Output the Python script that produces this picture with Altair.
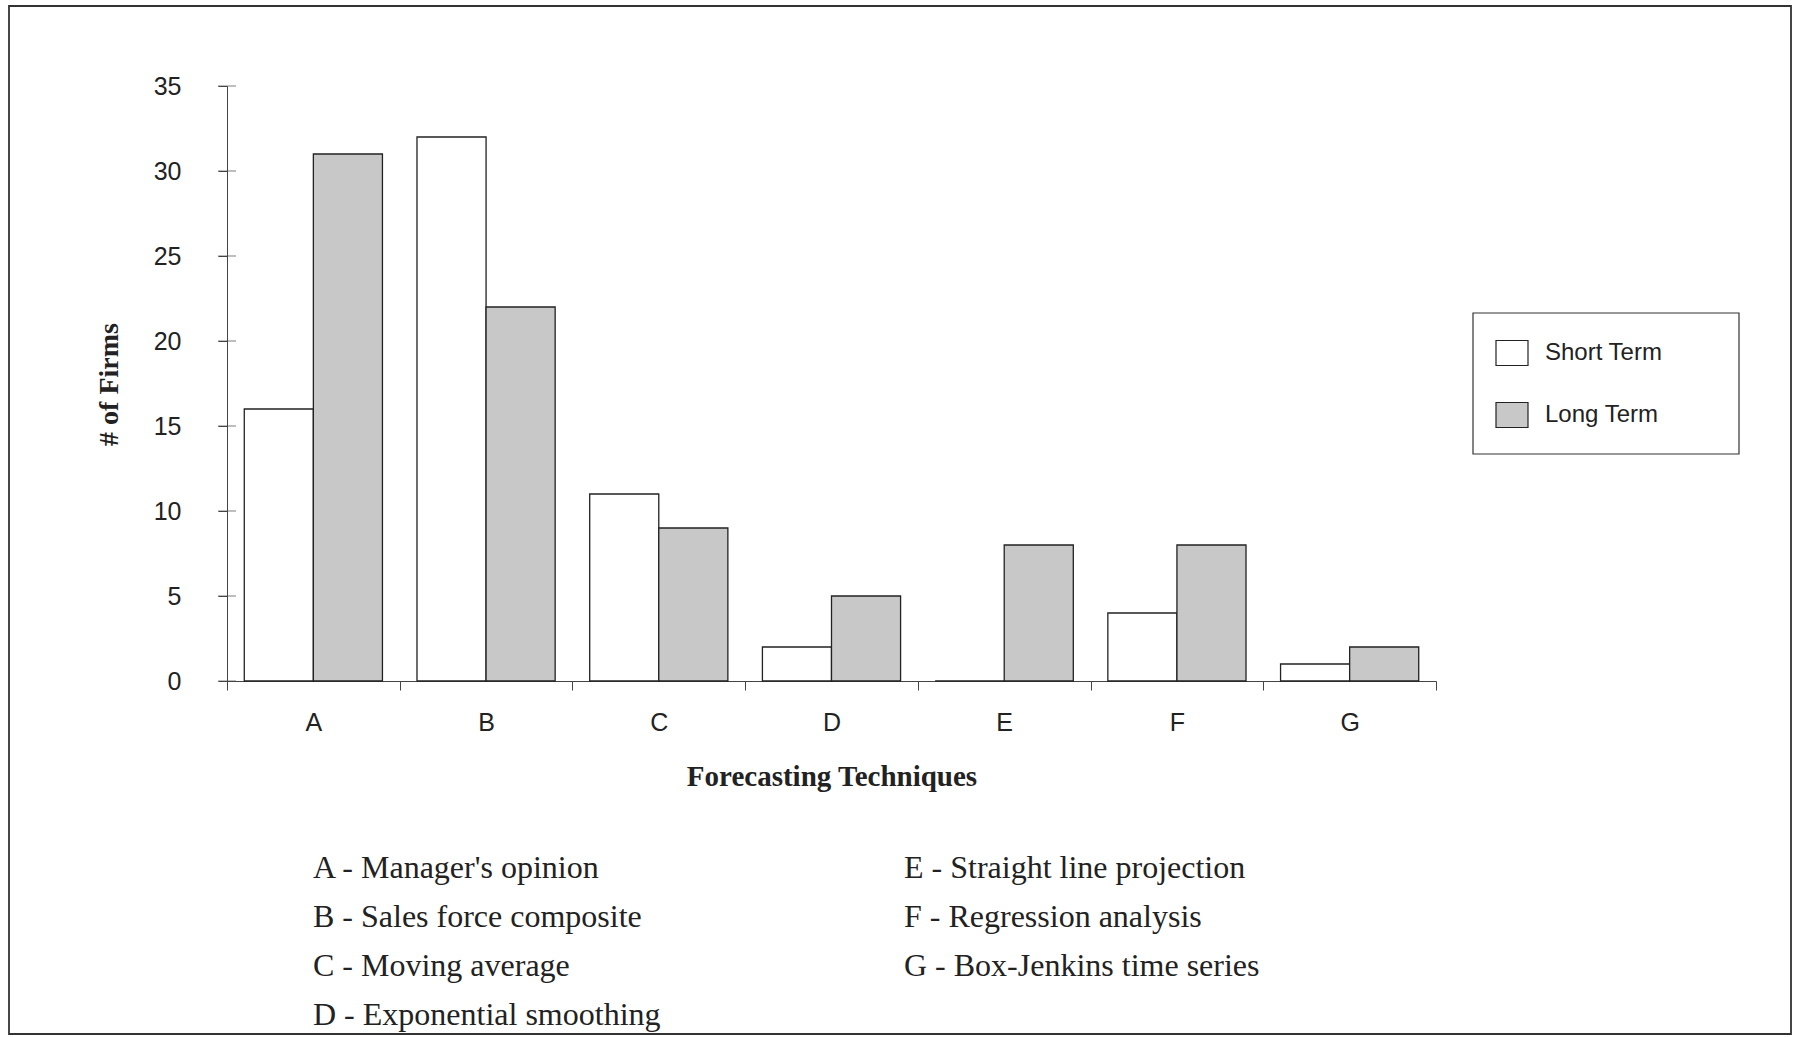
import altair as alt
import pandas as pd

# ---- data ----
techniques = ["A", "B", "C", "D", "E", "F", "G"]
short_term = [16, 32, 11, 2, 0, 4, 1]
long_term = [31, 22, 9, 5, 8, 8, 2]
terms = ["Short Term", "Long Term"]
term_colors = ["#ffffff", "#c8c8c8"]
y_ticks = [0, 5, 10, 15, 20, 25, 30, 35]
descriptions = [
    "Manager's opinion",
    "Sales force composite",
    "Moving average",
    "Exponential smoothing",
    "Straight line projection",
    "Regression analysis",
    "Box-Jenkins time series",
]

rows = []
for t, s, l in zip(techniques, short_term, long_term):
    rows.append({"technique": t, "term": terms[0], "firms": s})
    rows.append({"technique": t, "term": terms[1], "firms": l})
df = pd.DataFrame(rows)

# layout (pixels)
W, H = 1209, 595
LEFT, TOP = 227, 86

SERIF = "Liberation Serif"
SANS = "Liberation Sans"
INK = "#222222"
LINE = "#444444"

y_enc = alt.Y(
    "firms:Q",
    scale=alt.Scale(domain=[0, 35], nice=False),
    axis=alt.Axis(
        title="# of Firms",
        values=y_ticks,
        tickSize=9,
        labelPadding=37,
        labelFont=SANS,
        labelFontSize=25,
        labelColor=INK,
        domainColor=LINE,
        tickColor=LINE,
        grid=False,
        titleFont=SERIF,
        titleFontWeight="bold",
        titleFontSize=28,
        titleColor=INK,
        titleX=-118,
        titleY=298,
        titleAngle=-90,
        titleAlign="center",
        titleBaseline="middle",
    ),
)

bars = alt.Chart(df).mark_bar(stroke=INK, strokeWidth=1.3).encode(
    x=alt.X(
        "technique:N",
        sort=techniques,
        scale=alt.Scale(paddingInner=0, paddingOuter=0),
        axis=alt.Axis(
            title="Forecasting Techniques",
            tickBand="extent",
            tickSize=9,
            labelAngle=0,
            labelPadding=32,
            labelBaseline="middle",
            labelFont=SANS,
            labelFontSize=25,
            labelColor=INK,
            domainColor=LINE,
            tickColor=LINE,
            titleFont=SERIF,
            titleFontWeight="bold",
            titleFontSize=29,
            titleColor=INK,
            titleX=W / 2,
            titleY=95,
            titleBaseline="middle",
            titleAlign="center",
        ),
    ),
    xOffset=alt.XOffset(
        "term:N",
        sort=terms,
        scale=alt.Scale(paddingInner=0, paddingOuter=0.25),
    ),
    y=y_enc,
    fill=alt.Fill(
        "term:N",
        sort=terms,
        scale=alt.Scale(domain=terms, range=term_colors),
        legend=alt.Legend(
            title=None,
            orient="none",
            legendX=1246,
            legendY=228,
            symbolType="M-1,-0.78H1V0.78H-1Z",
            symbolSize=1024,
            symbolStrokeColor=INK,
            symbolStrokeWidth=1.2,
            labelFont=SANS,
            labelFontSize=24,
            labelColor=INK,
            labelOffset=16,
            rowPadding=30,
            padding=22,
        ),
    ),
)

# y-axis ticks that cross the axis line
cross_ticks = alt.Chart(pd.DataFrame({"firms": y_ticks})).mark_tick(
    orient="horizontal", size=18, thickness=1, color=LINE
).encode(y=y_enc, x=alt.value(0))

left_text = "\n".join(f"{c} - {d}" for c, d in zip(techniques[:4], descriptions[:4]))
right_text = "\n".join(f"{c} - {d}" for c, d in zip(techniques[4:], descriptions[4:]))

notes = pd.DataFrame({"txt": [left_text, right_text], "col": [0, 1]})
note_style = dict(
    align="left", baseline="alphabetic", lineBreak="\n", lineHeight=49,
    font=SERIF, fontSize=32, color=INK,
)
left_note = alt.Chart(notes[notes.col == 0]).mark_text(**note_style).encode(
    text="txt:N", x=alt.value(313 - LEFT), y=alt.value(878 - TOP)
)
right_note = alt.Chart(notes[notes.col == 1]).mark_text(**note_style).encode(
    text="txt:N", x=alt.value(904 - LEFT), y=alt.value(878 - TOP)
)

frame = alt.Chart(pd.DataFrame({"f": [0]})).mark_rect(
    fill=None, stroke="#333333", strokeWidth=1.8
).encode(
    x=alt.value(9 - LEFT), x2=alt.value(1791 - LEFT),
    y=alt.value(6 - TOP), y2=alt.value(1034 - TOP),
)

legend_box = alt.Chart(pd.DataFrame({"f": [0]})).mark_rect(
    fill="#ffffff", stroke="#333333", strokeWidth=1.2
).encode(
    x=alt.value(1473 - LEFT), x2=alt.value(1739 - LEFT),
    y=alt.value(313 - TOP), y2=alt.value(454 - TOP),
)

chart = alt.layer(frame, legend_box, bars, cross_ticks, left_note, right_note).properties(
    width=W,
    height=H,
    autosize=alt.AutoSizeParams(type="none"),
    padding={"left": LEFT, "top": TOP, "right": 1797 - LEFT - W, "bottom": 1037 - TOP - H},
    background="#ffffff",
).configure_view(stroke=None)

chart.save("out.html", embed_options={"renderer": "svg", "actions": False})
